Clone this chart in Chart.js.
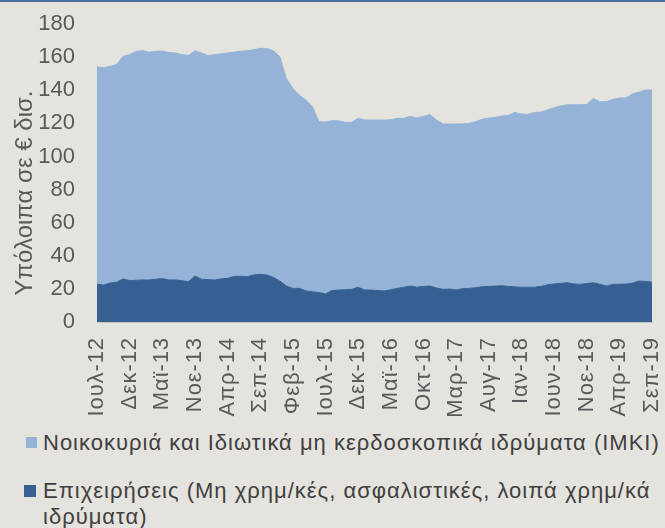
<!DOCTYPE html>
<html>
<head>
<meta charset="utf-8">
<script src="https://cdn.jsdelivr.net/npm/chart.js@4/dist/chart.umd.min.js"></script>
<style>
  html, body { margin:0; padding:0; background:#e4e3de; }
  body { width:665px; height:528px; position:relative; overflow:hidden; font-family:"Liberation Sans", Arial, sans-serif; }
  #topline { position:absolute; left:0; top:0; width:665px; height:2px; background:#4b6c9c; }
  #chart { position:absolute; left:0; top:0; }
  .leg { position:absolute; left:24px; font-size:22px; letter-spacing:1px; color:#404040; white-space:nowrap; line-height:26px; }
  .sw { position:absolute; width:11px; height:11px; }
</style>
</head>
<body>
<canvas id="chart" width="665" height="430"></canvas>
<div id="topline"></div>
<div class="leg" id="leg1" style="top:430px;"><span class="sw" style="left:2px;top:7px;background:#95b3d7;"></span><span style="position:absolute;left:19px;top:0;">Νοικοκυριά και Ιδιωτικά μη κερδοσκοπικά ιδρύματα (ΙΜΚΙ)</span></div>
<div class="leg" id="leg2" style="top:478px;"><span class="sw" style="left:0px;top:7px;width:12px;height:12px;background:#366092;"></span><span style="position:absolute;left:19px;top:0;">Επιχειρήσεις (Μη χρημ/κές, ασφαλιστικές, λοιπά χρημ/κά<br>ιδρύματα)</span></div>
<script>
const months = ['Ιουλ-12','Αυγ-12','Σεπ-12','Οκτ-12','Νοε-12','Δεκ-12',
 'Ιαν-13','Φεβ-13','Μαρ-13','Απρ-13','Μαϊ-13','Ιουν-13','Ιουλ-13','Αυγ-13','Σεπ-13','Νοε-13','Δεκ-13',
 'Ιαν-14','Φεβ-14','Μαρ-14','Απρ-14','Μαϊ-14','Ιουν-14','Ιουλ-14','Αυγ-14','Σεπ-14','Οκτ-14','Νοε-14','Δεκ-14',
 'Ιαν-15','Φεβ-15','Μαρ-15','Απρ-15','Μαϊ-15','Ιουν-15','Ιουλ-15','Αυγ-15','Σεπ-15','Οκτ-15','Νοε-15','Δεκ-15',
 'Ιαν-16','Φεβ-16','Μαρ-16','Απρ-16','Μαϊ-16','Ιουν-16','Ιουλ-16','Αυγ-16','Σεπ-16','Οκτ-16','Νοε-16','Δεκ-16',
 'Ιαν-17','Φεβ-17','Μαρ-17','Απρ-17','Μαϊ-17','Ιουν-17','Ιουλ-17','Αυγ-17','Σεπ-17','Οκτ-17','Νοε-17','Δεκ-17',
 'Ιαν-18','Φεβ-18','Μαρ-18','Απρ-18','Μαϊ-18','Ιουν-18','Ιουλ-18','Αυγ-18','Σεπ-18','Οκτ-18','Νοε-18','Δεκ-18',
 'Ιαν-19','Φεβ-19','Μαρ-19','Απρ-19','Μαϊ-19','Ιουν-19','Ιουλ-19','Αυγ-19','Σεπ-19'];

const shownTicks = ['Ιουλ-12','Δεκ-12','Μαϊ-13','Νοε-13','Απρ-14','Σεπ-14','Φεβ-15','Ιουλ-15','Δεκ-15','Μαϊ-16','Οκτ-16','Μαρ-17','Αυγ-17','Ιαν-18','Ιουν-18','Νοε-18','Απρ-19','Σεπ-19'];

const enterprises = [22.9,22.3,23.5,24.0,26.0,25.0,25.2,25.4,25.4,25.8,26.2,25.4,25.4,25.0,24.3,27.8,25.8,25.6,25.4,26.0,
 26.4,27.5,27.6,27.4,28.4,28.8,28.4,27.0,24.7,21.7,20.3,20.3,18.8,18.3,17.7,17.0,19.0,19.3,19.5,19.7,
 21.0,19.3,19.3,19.0,18.7,19.5,20.3,21.0,21.7,21.0,21.5,21.7,20.5,19.7,19.9,19.3,20.1,20.3,20.7,21.3,
 21.5,21.7,21.9,21.5,21.2,21.0,21.0,21.0,21.5,22.5,23.0,23.3,23.7,23.0,22.7,23.2,23.7,22.8,21.7,22.7,
 22.8,22.9,23.5,24.7,24.5,24.1];

const households = [131.3,131.2,131.0,131.5,134.5,136.5,138.3,138.4,137.6,137.7,137.4,137.4,137.1,136.5,136.7,136.0,136.7,135.4,136.1,136.0,
 136.1,135.5,135.9,136.4,136.1,136.5,136.8,136.8,135.5,125.3,120.7,116.7,115.2,111.7,103.3,103.8,102.6,102.2,101.1,100.9,
 102.0,102.7,102.7,103.0,103.3,102.7,102.7,102.0,102.5,102.2,102.7,103.5,101.5,99.9,99.7,100.3,99.5,99.7,100.3,101.2,
 101.7,101.9,102.5,103.3,105.4,104.6,104.4,105.6,105.3,105.5,106.4,107.2,107.5,108.2,108.6,108.2,111.3,110.2,111.4,111.8,
 112.5,112.4,114.2,114.2,115.6,116.0];

const yTicks = [0,20,40,60,80,100,120,140,160,180];

const FONT = '"Liberation Sans", Arial, sans-serif';

new Chart(document.getElementById('chart'), {
  type: 'line',
  data: {
    labels: months,
    datasets: [
      { label: 'Επιχειρήσεις (Μη χρημ/κές, ασφαλιστικές, λοιπά χρημ/κά ιδρύματα)', data: enterprises,
        backgroundColor: '#366092', borderColor: '#366092', borderWidth: 1, fill: 'origin', pointRadius: 0, tension: 0 },
      { label: 'Νοικοκυριά και Ιδιωτικά μη κερδοσκοπικά ιδρύματα (ΙΜΚΙ)', data: households,
        backgroundColor: '#95b3d7', borderColor: '#95b3d7', borderWidth: 1, fill: '-1', pointRadius: 0, tension: 0 }
    ]
  },
  options: {
    responsive: false,
    animation: false,
    devicePixelRatio: 1,
    layout: { padding: { top: 24, right: 13, left: 0, bottom: 0 } },
    plugins: { legend: { display: false }, tooltip: { enabled: false } },
    scales: {
      x: {
        type: 'category',
        offset: false,
        grid: { display: false, drawTicks: false },
        border: { display: true, color: '#c4c4c4', width: 1 },
        ticks: {
          autoSkip: false, maxRotation: 90, minRotation: 90, padding: 15,
          color: '#595959', font: { family: FONT, size: 22 },
          callback: function(v, i) { const l = months[i]; return shownTicks.includes(l) ? l : null; }
        },
        afterFit: function(s) {
          s.height = 108;
          s.paddingLeft = 0; s.paddingRight = 0; s.paddingTop = 0; s.paddingBottom = 0;
          if (!s._lsPatched) {
            const proto = Object.getPrototypeOf(s);
            s.drawLabels = function(area) {
              const ctx = this.ctx; const prev = ctx.letterSpacing;
              ctx.letterSpacing = '0.9px';
              proto.drawLabels.call(this, area);
              ctx.letterSpacing = prev || '0px';
            };
            s._lsPatched = true;
          }
        }
      },
      y: {
        stacked: true,
        min: 0, max: 180,
        afterBuildTicks: function(s) { s.ticks = yTicks.map(v => ({ value: v })); },
        grid: { display: false, drawTicks: false },
        border: { display: false },
        ticks: { padding: 22, color: '#595959', font: { family: FONT, size: 22 } },
        title: { display: true, text: 'Υπόλοιπα σε € δισ.      ', color: '#595959', font: { family: FONT, size: 24 }, padding: { top: 11, bottom: 0 } },
        afterFit: function(s) { s.width = 97; s.paddingTop = 0; s.paddingBottom = 0; s.paddingLeft = 0; s.paddingRight = 0; }
      }
    }
  }
});
</script>
</body>
</html>
